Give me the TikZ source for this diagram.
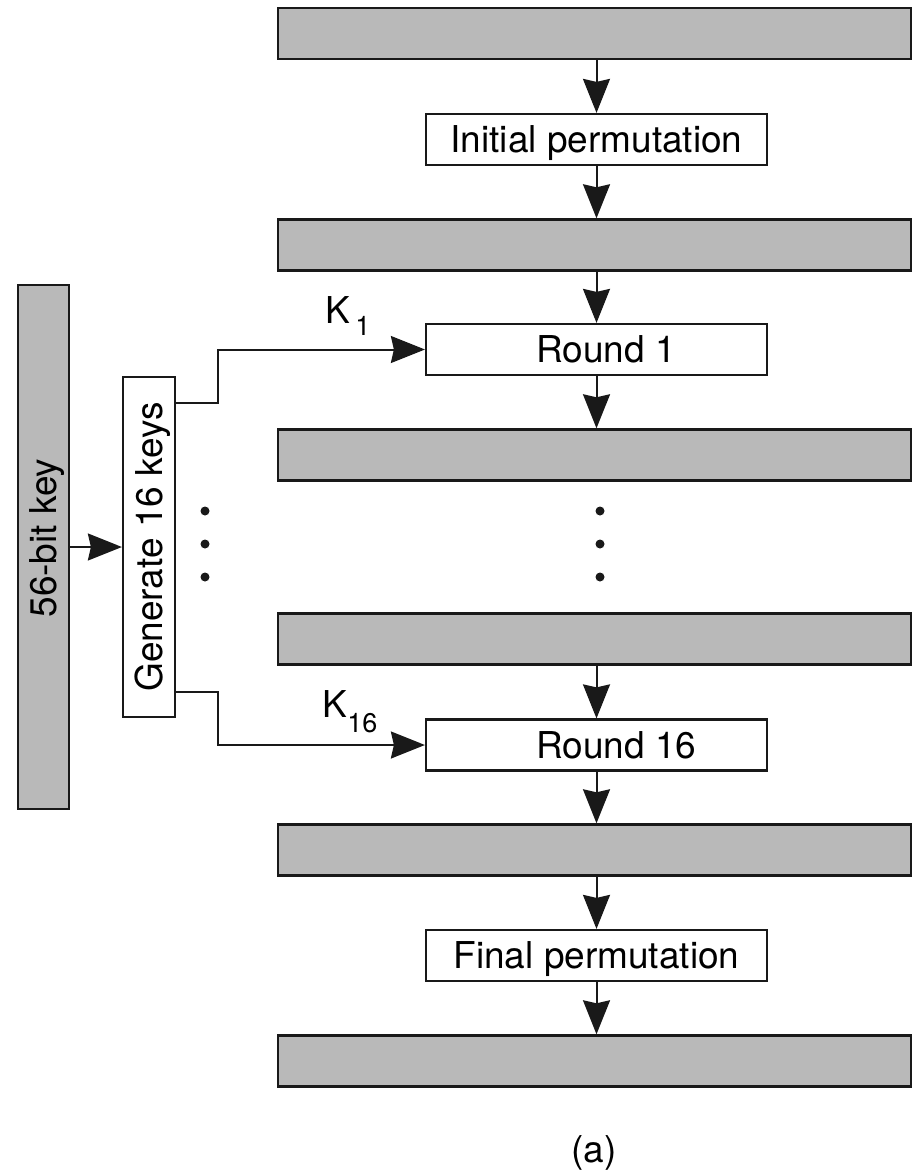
\documentclass[tikz,border=0pt]{standalone}
\usepackage{fontspec}
\setmainfont{TeX Gyre Heros}
\usetikzlibrary{arrows.meta}
\definecolor{bargray}{RGB}{185,185,185}
\definecolor{ink}{RGB}{25,25,25}

\begin{document}
\begin{tikzpicture}[x=1pt,y=-1pt,
  txt/.style={font=\fontsize{37}{44}\selectfont, text height=26.6pt, text depth=0pt},
  bar/.style={draw=ink, line width=2.4pt, fill=bargray, inner sep=0pt,
    minimum width=633pt, minimum height=51pt},
  keybar/.style={bar, txt, rotate=90, minimum width=524pt, minimum height=51pt},
  stepbox/.style={draw=ink, line width=2.2pt, fill=white, inner sep=0pt, txt,
    minimum width=341pt, minimum height=51pt},
  genbox/.style={stepbox, rotate=90, minimum width=340pt, minimum height=52pt},
  lbl/.style={inner sep=0pt, txt},
  arr/.style={draw=ink, line width=2pt, -{Stealth[length=34pt, width=27pt, inset=3pt]}},
  dot/.style={circle, fill=ink, inner sep=0pt, minimum size=9pt},
]
\useasboundingbox[fill=white] (0,0) rectangle (913,1172);

% data path: blocks and stages
\node[bar] (b1) at (594.5,33.5) {};
\node[stepbox] (ip) at (596.5,139.5) {Initial permutation};
\node[bar] (b2) at (594.5,245) {};
\node[stepbox] (r1) at (596.5,349.5) {};
\node[lbl, anchor=west] (r1t) at (536,349.5) {Round 1};
\node[bar] (b3) at (594.5,455) {};
\node[dot] (d1) at (600,511) {};
\node[dot] (d2) at (600,544) {};
\node[dot] (d3) at (600,577) {};
\node[bar] (b4) at (594.5,639) {};
\node[stepbox] (r16) at (596.5,745) {};
\node[lbl, anchor=west] (r16t) at (536,745) {Round 16};
\node[bar] (b5) at (594.5,850) {};
\node[stepbox] (fp) at (596.5,955.5) {Final permutation};
\node[bar] (b6) at (594.5,1061) {};

\draw[arr] (b1.south -| ip.north) -- (ip.north);
\draw[arr] (ip.south) -- (ip.south |- b2.north);
\draw[arr] (b2.south -| r1.north) -- (r1.north);
\draw[arr] (r1.south) -- (r1.south |- b3.north);
\draw[arr] (b4.south -| r16.north) -- (r16.north);
\draw[arr] (r16.south) -- (r16.south |- b5.north);
\draw[arr] (b5.south -| fp.north) -- (fp.north);
\draw[arr] (fp.south) -- (fp.south |- b6.north);

% key schedule
\node[keybar] (key) at (43.5,547) {};
\node[lbl, rotate=90] (keyt) at (43.5,538) {56-bit key};
\node[genbox] (gen) at (149,547) {Generate 16 keys};
\draw[arr] (key) -- (gen);

\node[dot] (e1) at (205,511) {};
\node[dot] (e2) at (205,544) {};
\node[dot] (e3) at (205,577) {};

\draw[arr] ([yshift=144pt]gen.south) -- ++(42,0) |- (r1.west);
\draw[arr] ([yshift=-145pt]gen.south) -- ++(42,0) |- (r16.west);

\node[lbl, anchor=base west] (k1) at (325.5,323)
  {K\hspace{5pt}\raisebox{-12pt}{\fontsize{27}{27}\selectfont 1}};
\node[lbl, anchor=base west] (k16) at (322.5,717)
  {K\raisebox{-15pt}{\fontsize{27}{27}\selectfont 16}};

\node[lbl, anchor=base] (cap) at (594,1162) {(a)};
\end{tikzpicture}
\end{document}
